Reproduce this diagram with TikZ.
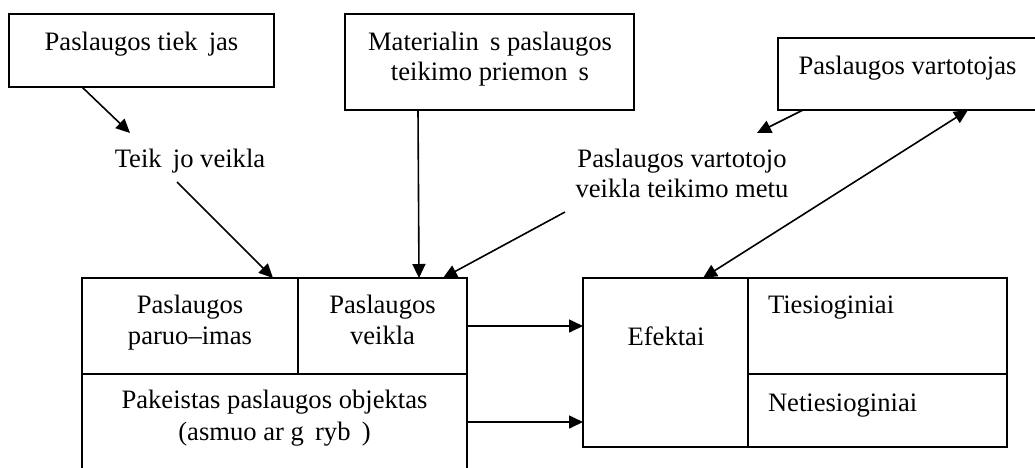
\documentclass[tikz,border=0pt]{standalone}
\usepackage{fontspec}
\setmainfont{Liberation Serif}
\usetikzlibrary{arrows.meta,calc}
\newcommand{\gp}{\hspace{0.42em}}
\begin{document}
\begin{tikzpicture}[x=1pt,y=-1pt,
  box/.style={draw,line width=1.6pt,rectangle,inner sep=0pt,outer sep=0pt},
  txt/.style={inner sep=0pt,outer sep=0pt,font=\fontsize{26.6}{30}\selectfont},
  arr/.style={line width=1.6pt,-{Triangle[length=14pt,width=13pt]}},
  darr/.style={line width=1.6pt,{Triangle[length=14pt,width=13pt]}-{Triangle[length=14pt,width=13pt]}}]
\useasboundingbox (0,0) rectangle (1035,467);
\clip (0,0) rectangle (1035,467);
\fill[white] (0,0) rectangle (1035,467);
% top boxes
\node[box,minimum width=265pt,minimum height=73pt] (b1) at (141.5,50.5) {};
\node[txt,anchor=base] (t1) at (141.5,50) {Paslaugos tiek\gp jas};
\node[box,minimum width=289pt,minimum height=96pt] (b2) at (489.5,62) {};
\node[txt,anchor=base] (t2a) at (490,50) {Materialin\gp s paslaugos};
\node[txt,anchor=base] (t2b) at (490,80) {teikimo priemon\gp s};
\node[box,minimum width=260pt,minimum height=72pt] (b3) at (908,74) {};
\node[txt,anchor=base] (t3) at (907.5,74) {Paslaugos vartotojas};
% free labels
\node[txt,anchor=base] (tk) at (190,167) {Teik\gp jo veikla};
\node[txt,anchor=base] (vv1) at (682,167) {Paslaugos vartotojo};
\node[txt,anchor=base] (vv2) at (682,197) {veikla teikimo metu};
% lower left block
\node[box,minimum width=216pt,minimum height=96pt] (c1) at (190,326) {};
\node[box,minimum width=169pt,minimum height=96pt] (c2) at (382.5,326) {};
\node[box,minimum width=385pt,minimum height=96pt] (c3) at (274.5,422) {};
\node[txt,anchor=base] (c1a) at (190,313) {Paslaugos};
\node[txt,anchor=base] (c1b) at (190,344) {paruo–imas};
\node[txt,anchor=base] (c2a) at (382.5,313) {Paslaugos};
\node[txt,anchor=base] (c2b) at (382.5,344) {veikla};
\node[txt,anchor=base] (c3a) at (274.5,408) {Pakeistas paslaugos objektas};
\node[txt,anchor=base] (c3b) at (274.5,440) {(asmuo ar g\gp ryb\gp )};
% effects block
\node[box,minimum width=165pt,minimum height=169pt] (e1) at (665.5,362.5) {};
\node[box,minimum width=259pt,minimum height=96pt] (e2) at (877.5,326) {};
\node[box,minimum width=259pt,minimum height=73pt] (e3) at (877.5,410.5) {};
\node[txt,anchor=base] (e1t) at (666,345) {Efektai};
\node[txt,anchor=base west] (e2t) at (768,313) {Tiesioginiai};
\node[txt,anchor=base west] (e3t) at (768,411) {Netiesioginiai};
% helper coordinates
\coordinate (tkin) at (130,133);
\coordinate (tkout) at (177,182);
\coordinate (vvout) at (565,212);
\coordinate (vvin) at (757,133);
% connectors
\draw[arr] ($(b1.south west)+(73,0)$) -- (tkin);
\draw[arr] (tkout) -- ($(c1.north east)+(-25,0)$);
\draw[arr] ($(b2.south west)+(73,0)$) -- ($(c2.north west)+(121,0)$);
\draw[arr] (vvout) -- ($(c2.north east)+(-24,0)$);
\draw[arr] ($(b3.south west)+(25,0)$) -- (vvin);
\draw[darr] ($(e1.north west)+(120,0)$) -- ($(b3.south west)+(190,0)$);
\draw[arr] (c2.east) -- (c2.east -| e1.west);
\draw[arr] (c3.east) -- (c3.east -| e1.west);
\end{tikzpicture}
\end{document}
